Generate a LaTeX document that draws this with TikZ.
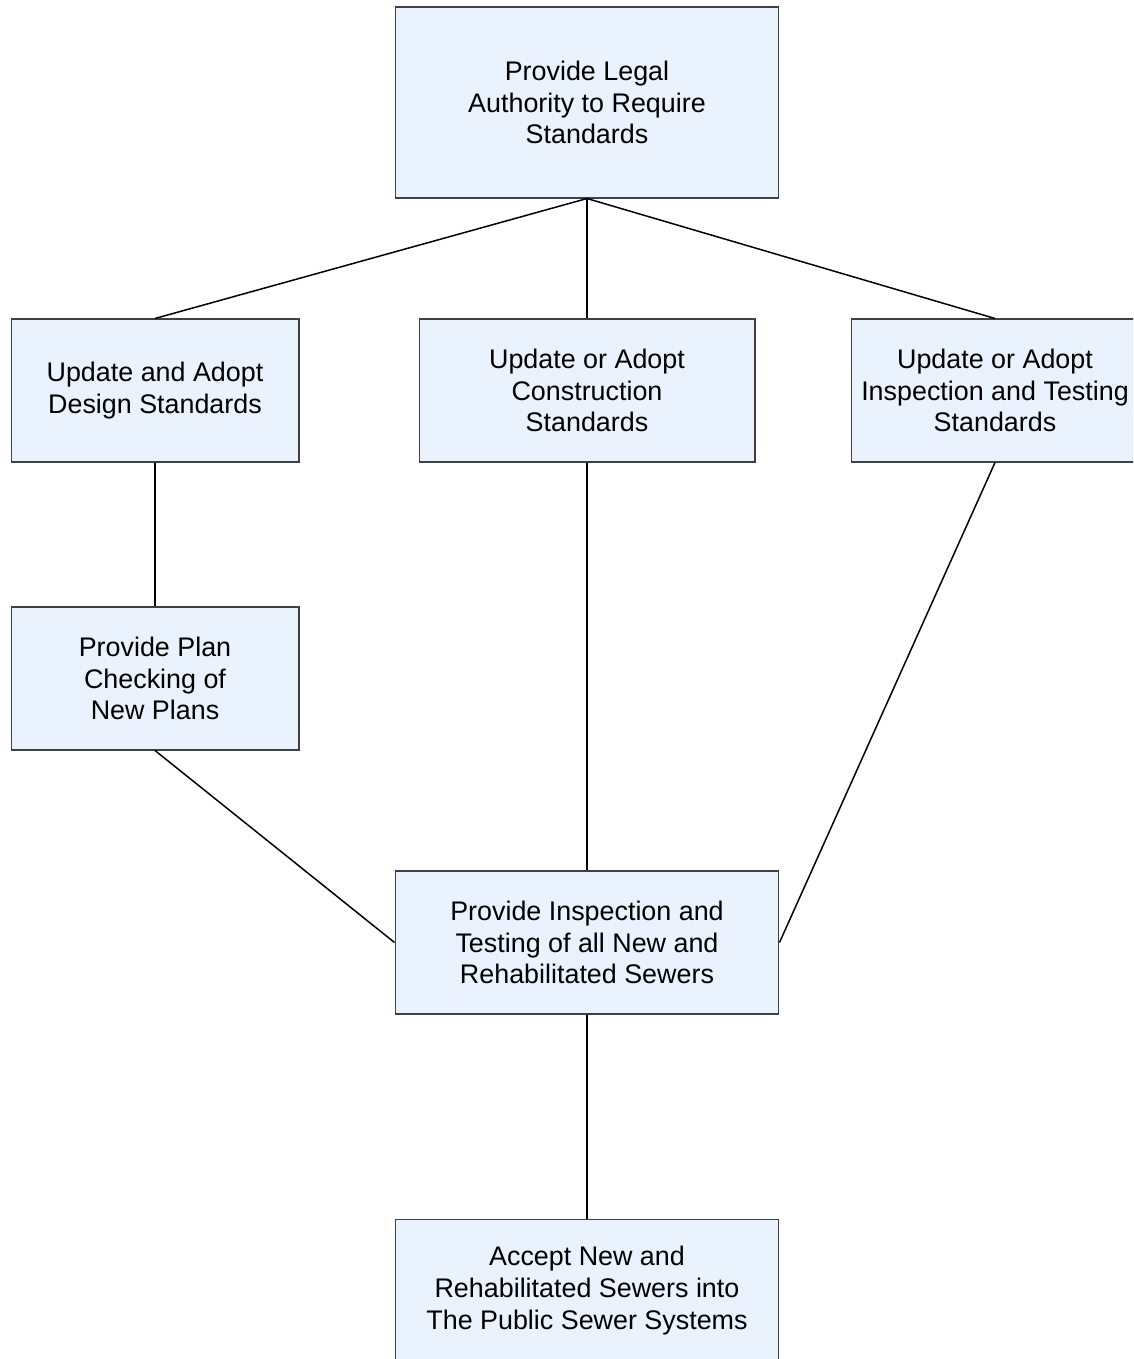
\documentclass[tikz,border=0pt]{standalone}
\usepackage{fontspec}
\setmainfont{Liberation Sans}
\usepackage{xcolor}
\usepackage{tikz}
\definecolor{boxfill}{HTML}{EAF2FE}
\definecolor{boxline}{HTML}{404040}
\tikzset{
  box/.style={draw=boxline, fill=boxfill, line width=0.6pt, align=center,
    font=\fontsize{15.3}{18.1}\selectfont, inner sep=0pt},
  wide/.style={box, minimum width=7.68cm, minimum height=2.86cm},
  mid/.style={box, minimum width=6.72cm, minimum height=2.86cm},
  narrow/.style={box, minimum width=5.76cm, minimum height=2.86cm},
  link/.style={draw=black, line width=0.85pt},
}
\begin{document}
\begin{tikzpicture}[x=0.02cm, y=-0.02cm]
  \useasboundingbox (0,0) rectangle (1133,1359);
  \begin{scope}
  \clip (0,0) rectangle (1133,1359);
  \node[wide, minimum height=3.82cm] (legal) at (587,102.5) {Provide Legal\\Authority to Require\\Standards};
  \node[narrow] (design) at (155,390.5) {Update and Adopt\\Design Standards};
  \node[mid] (constr) at (587,390.5) {Update or Adopt\\Construction\\Standards};
  \node[narrow] (testing) at (995,390.5) {Update or Adopt\\Inspection and Testing\\Standards};
  \node[narrow] (plan) at (155,678.5) {Provide Plan\\Checking of\\New Plans};
  \node[wide] (inspect) at (587,942.5) {Provide Inspection and\\Testing of all New and\\Rehabilitated Sewers};
  \node[wide] (accept) at (587,1290.5) {Accept New and\\Rehabilitated Sewers into\\The Public Sewer Systems};
  % links
  \draw[link] (legal.south) -- (design.north);
  \draw[link] (legal.south) -- (constr.north);
  \draw[link] (legal.south) -- (testing.north);
  \draw[link] (design.south) -- (plan.north);
  \draw[link] (plan.south) -- (inspect.west);
  \draw[link] (constr.south) -- (inspect.north);
  \draw[link] (testing.south) -- (inspect.east);
  \draw[link] (inspect.south) -- (accept.north);
  \end{scope}
\end{tikzpicture}
\end{document}
